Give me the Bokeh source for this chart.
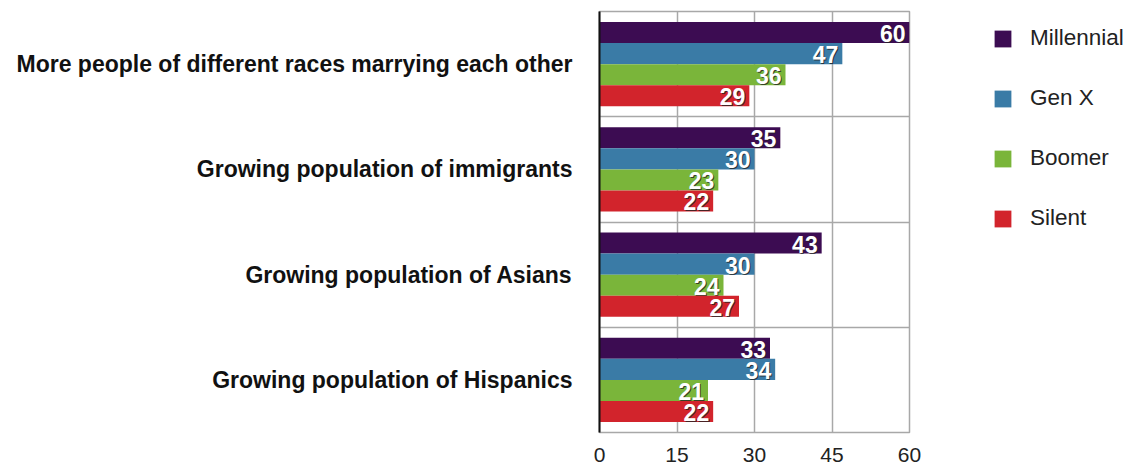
from bokeh.plotting import figure
from bokeh.models import ColumnDataSource, FixedTicker, Legend, LegendItem
from bokeh.transform import dodge
from bokeh.embed import file_html
from bokeh.resources import INLINE
from bokeh.core.properties import value

categories = ["More people of different races marrying each other",
              "Growing population of immigrants",
              "Growing population of Asians",
              "Growing population of Hispanics"]
series_names = ["Millennial", "Gen X", "Boomer", "Silent"]
millennial = [60, 35, 43, 33]
genx = [47, 30, 30, 34]
boomer = [36, 23, 24, 21]
silent = [29, 22, 27, 22]
x_ticks = [0, 15, 30, 45, 60]

colors = ["#3c0c52", "#3a7ba6", "#7ab53a", "#d2242c"]
offsets = [0.3, 0.1, -0.1, -0.3]

n = len(categories)
ypos = [n - 1 - i for i in range(n)]

p = figure(frame_width=310, frame_height=421, output_backend="svg", toolbar_location=None,
           x_range=(0, 60), y_range=(-0.5, n - 0.5),
           min_border_left=599, min_border_top=11, min_border_bottom=30,
           min_border_right=218)
p.outline_line_color = "#a8a8a8"
p.outline_line_width = 1.5
p.background_fill_color = "white"

src = ColumnDataSource(dict(y=ypos, Millennial=millennial, GenX=genx,
                            Boomer=boomer, Silent=silent,
                            lM=[str(v) for v in millennial], lG=[str(v) for v in genx],
                            lB=[str(v) for v in boomer], lS=[str(v) for v in silent]))
keys = ["Millennial", "GenX", "Boomer", "Silent"]
lkeys = ["lM", "lG", "lB", "lS"]

items = []
for k, lk, c, off, name in zip(keys, lkeys, colors, offsets, series_names):
    r = p.hbar(y=dodge("y", off, range=p.y_range), right=k, left=0, height=0.2,
               source=src, fill_color=c, line_color=None)
    items.append(LegendItem(label=name, renderers=[r]))
    p.text(x=k, y=dodge("y", off, range=p.y_range), text=lk, source=src,
           text_align="right", text_baseline="middle", x_offset=-3, y_offset=2,
           text_font=value("Liberation Sans"), text_font_style="bold",
           text_font_size="23px", text_color="#222222", text_alpha=0.8)
    p.text(x=k, y=dodge("y", off, range=p.y_range), text=lk, source=src,
           text_align="right", text_baseline="middle", x_offset=-4, y_offset=1,
           text_font=value("Liberation Sans"), text_font_style="bold",
           text_font_size="23px", text_color="white")

# axes
p.xaxis.ticker = FixedTicker(ticks=x_ticks)
p.xaxis.axis_line_color = None
p.xaxis.major_tick_line_color = None
p.xaxis.minor_tick_line_color = None
p.xaxis.major_label_text_font = "Liberation Sans"
p.xaxis.major_label_text_font_size = "21px"
p.xaxis.major_label_text_color = "#222222"
p.xaxis.major_label_standoff = 9

p.yaxis.ticker = FixedTicker(ticks=ypos)
p.yaxis.major_label_overrides = {y: c for y, c in zip(ypos, categories)}
p.yaxis.axis_line_color = "#111111"
p.yaxis.axis_line_width = 2
p.yaxis.major_tick_line_color = None
p.yaxis.minor_tick_line_color = None
p.yaxis.major_label_text_font = "Liberation Sans"
p.yaxis.major_label_text_font_style = "bold"
p.yaxis.major_label_text_font_size = "23px"
p.yaxis.major_label_text_color = "#111111"
p.yaxis.major_label_standoff = 21

p.xgrid.ticker = FixedTicker(ticks=x_ticks[1:-1])
p.xgrid.grid_line_color = "#a8a8a8"
p.xgrid.grid_line_width = 1.5
p.ygrid.ticker = FixedTicker(ticks=[i - 0.5 for i in range(1, n)])
p.ygrid.grid_line_color = "#a8a8a8"
p.ygrid.grid_line_width = 1.5

legend = Legend(items=items, location=(83, 201))
legend.label_text_font = "Liberation Sans"
legend.label_text_font_size = "22.5px"
legend.label_text_color = "#222222"
legend.glyph_width = 21
legend.glyph_height = 21
legend.spacing = 34
legend.label_standoff = 17
legend.label_height = 21
legend.border_line_color = None
legend.background_fill_alpha = 0
legend.margin = 0
legend.padding = 0
p.add_layout(legend, "right")

open("out.html", "w").write(file_html(p, INLINE))
